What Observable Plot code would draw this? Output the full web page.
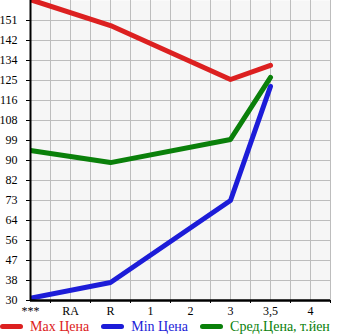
<!DOCTYPE html>
<html>
<head>
<meta charset="utf-8">
<script src="https://cdn.jsdelivr.net/npm/d3@7"></script>
<script src="https://cdn.jsdelivr.net/npm/@observablehq/plot@0.6"></script>
<style>
  body { margin: 0; background: #fff; font-family: "Liberation Serif", "DejaVu Serif", serif; }
  #chart { width: 345px; }
  svg text { font-family: "Liberation Serif", "DejaVu Serif", serif !important; }
  .legend { display: flex; align-items: center; height: 17px; font-size: 14px; white-space: nowrap; font-family: "Liberation Serif", serif; }
  .item { display: flex; align-items: center; margin-right: 12px; }
  .sw { width: 23px; height: 5px; border-radius: 3px; margin-right: 7px; }
</style>
</head>
<body>
<div id="chart"></div>
<script>
const categories = ["***", "RA", "R", "1", "2", "3", "3,5", "4"];
const maxPrice = [160, null, 148.8, null, null, 125.5, 131.6, null];
const minPrice = [31, null, 37.8, null, null, 73.2, 122.5, null];
const avgPrice = [94.8, null, 89.6, null, null, 99.6, 126.4, null];
const yTickLabels = ["30", "38", "47", "56", "64", "73", "82", "90", "99", "108", "116", "125", "134", "142", "151"];
const seriesNames = ["Max Цена", "Min Цена", "Сред.Цена, т.йен"];
const seriesColors = ["#dc2020", "#1c1cd8", "#0a800a"];

const yMin = 30, yMaxTick = 151;
const step = (yMaxTick - yMin) / (yTickLabels.length - 1);
const yTicks = yTickLabels.map((_, k) => yMin + k * step);
const yTop = yMin + yTickLabels.length * step;

function pts(arr) {
  return arr.map((v, i) => ({i, v})).filter(d => d.v != null);
}
const series = [maxPrice, minPrice, avgPrice];

const halfTicks = d3.range(0, categories.length + 0.01, 0.5);
const midTicks = d3.range(0.5, categories.length + 0.01, 1);
const serif = '"Liberation Serif", serif';

const chart = Plot.plot({
  width: 345,
  height: 318,
  marginLeft: 30,
  marginRight: 15,
  marginTop: 0,
  marginBottom: 18,
  style: {fontFamily: serif, fontSize: "11px", background: "#fff", color: "#000"},
  x: {type: "linear", domain: [0, categories.length - 0.5], axis: null},
  y: {type: "linear", domain: [yMin, yTop], axis: null},
  marks: [
    Plot.frame({fill: "#f6f6f6", stroke: null}),
    Plot.gridX(halfTicks, {stroke: "#bdbdbd", strokeOpacity: 1, strokeWidth: 1}),
    Plot.gridY(yTicks, {stroke: "#bdbdbd", strokeOpacity: 1, strokeWidth: 1}),
    ...series.map((s, k) => Plot.line(pts(s), {x: "i", y: "v", stroke: seriesColors[k], strokeWidth: 5, strokeLinejoin: "round", strokeLinecap: "round", clip: true})),
    Plot.ruleX([0], {stroke: "#000", strokeWidth: 2}),
    Plot.ruleY([yMin], {stroke: "#000", strokeWidth: 2.5}),
    Plot.axisX(d3.range(categories.length), {label: null, tickSize: 0, tickPadding: 6, tickFormat: i => categories[i], fill: "#000", fontSize: 12, fontFamily: serif}),
    Plot.axisX(midTicks, {label: null, tickSize: 3, tickFormat: () => "", stroke: "#000"}),
    Plot.axisY(yTicks, {label: null, tickSize: 4, tickPadding: 9, tickFormat: (d, k) => yTickLabels[k], fill: "#000", stroke: "#000", fontSize: 12, fontFamily: serif})
  ]
});
document.getElementById("chart").appendChild(chart);

const legend = document.createElement("div");
legend.className = "legend";
seriesNames.forEach((name, k) => {
  const item = document.createElement("div");
  item.className = "item";
  const sw = document.createElement("span");
  sw.className = "sw";
  sw.style.background = seriesColors[k];
  const t = document.createElement("span");
  t.textContent = name;
  t.style.color = seriesColors[k];
  item.appendChild(sw);
  item.appendChild(t);
  legend.appendChild(item);
});
document.getElementById("chart").appendChild(legend);
</script>
</body>
</html>
